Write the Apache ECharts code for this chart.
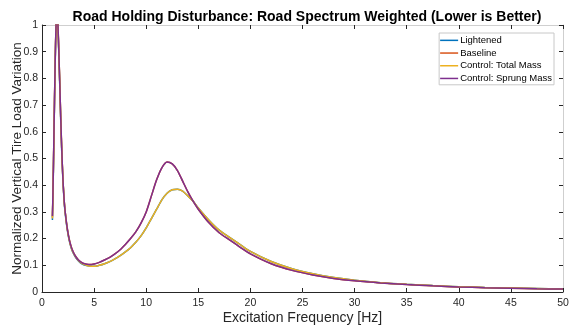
<!DOCTYPE html>
<html>
<head>
<meta charset="utf-8">
<script src="https://cdn.jsdelivr.net/npm/echarts@6/dist/echarts.min.js"></script>
<style>
html,body{margin:0;padding:0;background:#fff;}
#chart{width:569px;height:329px;}
</style>
</head>
<body>
<div id="chart"></div>
<script>
var freq = [1.0,1.05,1.1,1.15,1.2,1.25,1.3,1.35,1.4,1.45,1.5,1.55,1.6,1.7,1.8,1.9,2.0,2.1,2.2,2.4,2.6,2.8,3.0,3.25,3.5,3.75,4.0,4.5,5,5.5,6,6.5,7,7.5,8,8.5,9,9.5,10,10.5,11,11.5,12,12.5,13,13.5,14,14.5,15,16,17,18,19,20,22,24,26,28,30,32.5,35,37.5,40,42.5,45,47.5,50];

var lightened = [0.27,0.36,0.47,0.59,0.71,0.82,0.92,0.99,1.03,1.04,1.02,0.97,0.91,0.78,0.64,0.52,0.425,0.355,0.305,0.24,0.195,0.165,0.145,0.128,0.116,0.107,0.102,0.097,0.096,0.1,0.106,0.114,0.124,0.136,0.15,0.166,0.186,0.21,0.24,0.275,0.31,0.345,0.37,0.383,0.385,0.378,0.36,0.34,0.315,0.27,0.232,0.205,0.178,0.152,0.114,0.087,0.068,0.054,0.044,0.035,0.029,0.024,0.02,0.017,0.015,0.013,0.011];
var baseline = [0.28,0.37,0.48,0.6,0.72,0.83,0.93,1.0,1.04,1.05,1.03,0.98,0.92,0.79,0.65,0.53,0.43,0.36,0.31,0.245,0.2,0.17,0.15,0.132,0.12,0.112,0.107,0.103,0.105,0.111,0.12,0.13,0.143,0.158,0.178,0.2,0.225,0.258,0.3,0.36,0.42,0.465,0.487,0.48,0.455,0.415,0.375,0.34,0.31,0.26,0.222,0.195,0.168,0.143,0.106,0.081,0.064,0.051,0.042,0.034,0.028,0.023,0.019,0.016,0.014,0.012,0.011];
var totalMass = [0.275,0.365,0.475,0.595,0.715,0.825,0.925,0.995,1.035,1.045,1.025,0.975,0.915,0.785,0.645,0.525,0.428,0.358,0.308,0.242,0.197,0.167,0.147,0.13,0.118,0.109,0.104,0.097,0.096,0.1,0.106,0.114,0.124,0.136,0.15,0.166,0.186,0.21,0.24,0.275,0.31,0.345,0.37,0.383,0.385,0.378,0.36,0.34,0.315,0.27,0.232,0.205,0.178,0.152,0.114,0.087,0.068,0.054,0.044,0.035,0.029,0.024,0.02,0.017,0.015,0.013,0.011];
var sprungMass = [0.285,0.37,0.48,0.6,0.72,0.83,0.93,1.0,1.04,1.05,1.03,0.98,0.92,0.79,0.65,0.53,0.43,0.36,0.31,0.245,0.2,0.17,0.15,0.132,0.12,0.112,0.107,0.103,0.105,0.111,0.12,0.13,0.143,0.158,0.178,0.2,0.225,0.258,0.3,0.36,0.42,0.465,0.487,0.48,0.455,0.415,0.375,0.34,0.31,0.26,0.222,0.195,0.168,0.143,0.106,0.081,0.064,0.051,0.042,0.034,0.028,0.023,0.019,0.016,0.014,0.012,0.011];

var seriesNames = ['Lightened','Baseline','Control: Total Mass','Control: Sprung Mass'];
var seriesColors = ['#0072BD','#D95319','#EDB120','#7E2F8E'];
var seriesData = [lightened, baseline, totalMass, sprungMass];

var chart = echarts.init(document.getElementById('chart'), null, {renderer:'canvas'});
var font = 'Liberation Sans, Arial, Helvetica, sans-serif';
var axisColor = '#262626';

function pairs(ys){ return freq.map(function(f,i){ return [f, ys[i]]; }); }

var option = {
  animation:false,
  backgroundColor:'#fff',
  title:{
    text:'Road Holding Disturbance: Road Spectrum Weighted (Lower is Better)',
    left:302, textAlign:'center', top:5,
    textStyle:{fontFamily:font, fontSize:14, fontWeight:'bold', color:'#000'}
  },
  legend:{
    data:seriesNames,
    orient:'vertical',
    right:15, top:33,
    backgroundColor:'#fff',
    borderColor:'#c8c8c8', borderWidth:1,
    padding:[1,2,0,1],
    itemGap:0,
    itemWidth:18, itemHeight:1.5,
    icon:'rect',
    textStyle:{fontFamily:font, fontSize:9.5, lineHeight:12.7, color:'#000', padding:[0,0,0,-3]}
  },
  grid:{left:42, right:6, top:25, bottom:37, containLabel:false, outerBoundsMode:'none'},
  xAxis:[{
    type:'value', min:0, max:50, interval:5,
    name:'Excitation Frequency [Hz]', nameLocation:'middle', nameGap:19, nameMoveOverlap:false,
    nameTextStyle:{fontFamily:font, fontSize:14, color:axisColor},
    axisLine:{show:true, onZero:false, lineStyle:{color:axisColor, width:1}},
    axisTick:{show:true, inside:true, length:4, lineStyle:{color:axisColor}},
    axisLabel:{fontFamily:font, fontSize:10.5, color:axisColor, margin:6},
    splitLine:{show:false}
  },{
    type:'value', min:0, max:50, interval:5, position:'top',
    axisLine:{show:true, onZero:false, lineStyle:{color:'#cfcfcf', width:1}},
    axisTick:{show:true, inside:true, length:4, lineStyle:{color:axisColor}},
    axisLabel:{show:false}, splitLine:{show:false}
  }],
  yAxis:[{
    type:'value', min:0, max:1, interval:0.1,
    name:'Normalized Vertical Tire Load Variation', nameLocation:'middle', nameGap:18, nameMoveOverlap:false,
    nameTextStyle:{fontFamily:font, fontSize:13.5, color:axisColor},
    axisLine:{show:true, onZero:false, lineStyle:{color:axisColor, width:1}},
    axisTick:{show:true, inside:true, length:4, lineStyle:{color:axisColor}},
    axisLabel:{fontFamily:font, fontSize:10.5, color:axisColor, margin:4,
      formatter:function(v){ return String(Math.round(v*10)/10); }},
    splitLine:{show:false}
  },{
    type:'value', min:0, max:1, interval:0.1, position:'right',
    axisLine:{show:true, onZero:false, lineStyle:{color:'#cfcfcf', width:1}},
    axisTick:{show:true, inside:true, length:4, lineStyle:{color:axisColor}},
    axisLabel:{show:false}, splitLine:{show:false}
  }],
  series: seriesNames.map(function(n,i){
    return {
      name:n, type:'line', data:pairs(seriesData[i]),
      xAxisIndex:0, yAxisIndex:0,
      showSymbol:false, symbol:'none', smooth:0.25, clip:true,
      lineStyle:{color:seriesColors[i], width:1.5},
      itemStyle:{color:seriesColors[i]}
    };
  })
};
chart.setOption(option);
</script>
</body>
</html>
